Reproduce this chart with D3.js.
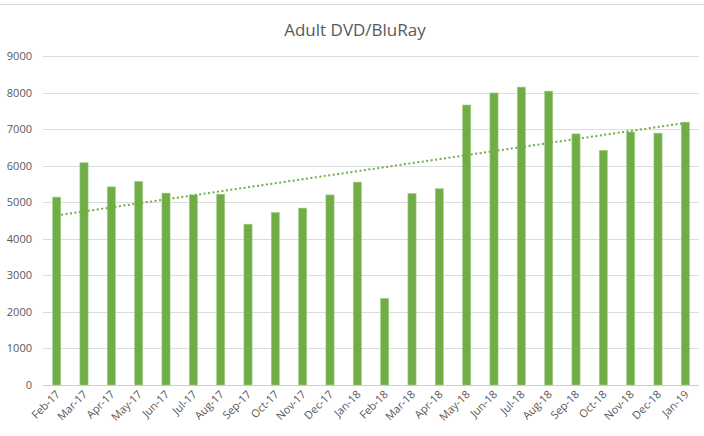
<!DOCTYPE html>
<html>
<head>
<meta charset="utf-8">
<script src="https://cdn.jsdelivr.net/npm/d3@7"></script>
<style>
  body { margin: 0; background: #fff; }
  text { font-family: "Open Sans", "Liberation Sans", sans-serif; fill: #595959; }
</style>
</head>
<body>
<div id="chart"></div>
<script>
(function(){
  'use strict';

  // data
  var months = ['Feb-17','Mar-17','Apr-17','May-17','Jun-17','Jul-17','Aug-17','Sep-17',
                'Oct-17','Nov-17','Dec-17','Jan-18','Feb-18','Mar-18','Apr-18','May-18',
                'Jun-18','Jul-18','Aug-18','Sep-18','Oct-18','Nov-18','Dec-18','Jan-19'];
  var values = [5140, 6080, 5420, 5570, 5250, 5200, 5220, 4400,
                4720, 4840, 5200, 5550, 2370, 5240, 5370, 7660,
                7990, 8150, 8040, 6870, 6420, 6920, 6890, 7190];
  var yTicks = [0, 1000, 2000, 3000, 4000, 5000, 6000, 7000, 8000, 9000];
  var title = 'Adult DVD/BluRay';

  var W = 704, H = 436,
      left = 43, right = 699, top = 56, bottom = 385;

  var svg = d3.select('#chart').append('svg')
    .attr('width', W)
    .attr('height', H);

  // chart frame top edge
  svg.append('line')
    .attr('x1', 0).attr('x2', W)
    .attr('y1', 4.5).attr('y2', 4.5)
    .style('stroke', '#d9d9d9');

  var x = d3.scaleBand()
    .domain(months)
    .range([left, right])
    .paddingInner(0.7)
    .paddingOuter(0.35);

  var y = d3.scaleLinear()
    .domain([0, 9000])
    .range([bottom, top]);

  // gridlines
  svg.selectAll('.grid')
    .data(yTicks)
    .enter()
    .append('line')
    .attr('class', 'grid')
    .attr('x1', left)
    .attr('x2', right)
    .attr('y1', function(d) { return Math.round(y(d)) + 0.5; })
    .attr('y2', function(d) { return Math.round(y(d)) + 0.5; })
    .style('stroke', function(d) { return d === 0 ? '#cfcfcf' : '#dcdcdc'; })
    .style('stroke-width', 1);

  // y axis labels
  var yAxis = d3.axisLeft(y)
    .tickValues(yTicks)
    .tickFormat(d3.format('d'))
    .tickSize(0)
    .tickPadding(0);

  var gy = svg.append('g')
    .attr('transform', 'translate(32, 0)')
    .call(yAxis);
  gy.select('.domain').remove();
  gy.selectAll('text')
    .style('font-size', '11px')
    .style('fill', '#595959');

  // bars
  svg.selectAll('.bar')
    .data(values)
    .enter()
    .append('rect')
    .attr('class', 'bar')
    .attr('x', function(d, i) { return x(months[i]); })
    .attr('y', function(d) { return y(d); })
    .attr('width', x.bandwidth())
    .attr('height', function(d) { return bottom - y(d); })
    .style('fill', '#70ad47')
    .style('stroke', '#a9d18e')
    .style('stroke-width', 0.6);

  // linear trendline (least squares on the bar values)
  var n = values.length,
      sx = 0, sy = 0, sxy = 0, sxx = 0, i;
  for (i = 0; i < n; i += 1) {
    sx += i; sy += values[i]; sxy += i * values[i]; sxx += i * i;
  }
  var slope = (n * sxy - sx * sy) / (n * sxx - sx * sx),
      icpt = (sy - slope * sx) / n;

  var cx = function(i) { return x(months[i]) + x.bandwidth() / 2; };

  svg.append('line')
    .attr('x1', cx(0))
    .attr('y1', y(icpt))
    .attr('x2', cx(n - 1))
    .attr('y2', y(icpt + slope * (n - 1)))
    .style('stroke', '#70ad47')
    .style('stroke-width', 2)
    .style('stroke-dasharray', '2,2.5');

  // x axis labels
  var gx = svg.append('g')
    .attr('transform', 'translate(0,' + bottom + ')')
    .call(d3.axisBottom(x).tickSize(0).tickPadding(0));
  gx.select('.domain').remove();
  gx.selectAll('text')
    .style('font-size', '11px')
    .style('fill', '#595959')
    .attr('text-anchor', 'end')
    .attr('dy', 0)
    .attr('transform', 'translate(4,10) rotate(-45)');

  // title
  svg.append('text')
    .attr('x', 355)
    .attr('y', 36)
    .attr('text-anchor', 'middle')
    .style('font-size', '17px')
    .style('fill', '#595959')
    .text(title);

}());
</script>
</body>
</html>
